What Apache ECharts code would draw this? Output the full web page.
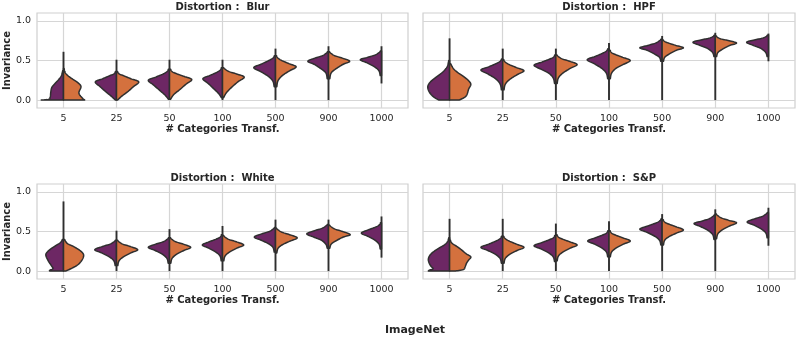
<!DOCTYPE html>
<html><head><meta charset="utf-8">
<script src="https://cdn.jsdelivr.net/npm/echarts@6/dist/echarts.min.js"></script>
<style>html,body{margin:0;padding:0;background:#fff}#c{width:798px;height:340px}</style>
</head><body><div id="c"></div>
<script>
// ---------- data ----------
const categories = ['5', '25', '50', '100', '500', '900', '1000'];
const yTicks = [0, 0.5, 1.0];
const panelNames = ['Blur', 'HPF', 'White', 'S&P'];

// tails: [min, max] of each violin (thin line)
const blurTails  = [[0,0.61],[0,0.51],[0,0.51],[0,0.51],[0,0.65],[0,0.68],[0.21,0.68]];
const hpfTails   = [[0,0.78],[0,0.65],[0,0.65],[0,0.72],[0,0.81],[0,0.85],[0.49,0.84]];
const whiteTails = [[0,0.88],[0,0.51],[0,0.53],[0,0.57],[0,0.65],[0,0.65],[0.17,0.69]];
const spTails    = [[0,0.66],[0,0.66],[0,0.60],[0,0.63],[0,0.72],[0,0.78],[0.32,0.80]];

// half-violin profiles: [invariance, half-width (category units)]
const blurPurple = [
  [[0,.42],[.01,.28],[.04,.25],[.1,.24],[.16,.22],[.21,.16],[.26,.09],[.31,.04],[.37,.015]],
  [[0,.02],[.05,.10],[.11,.21],[.17,.31],[.23,.40],[.27,.26],[.31,.12],[.33,.048],[.36,.02]],
  [[.01,.02],[.06,.08],[.12,.18],[.19,.30],[.25,.40],[.29,.26],[.33,.12],[.36,.048],[.39,.02]],
  [[.03,.02],[.08,.07],[.14,.16],[.21,.27],[.27,.37],[.31,.24],[.35,.11],[.38,.044],[.41,.02]],
  [[.17,.025],[.24,.05],[.30,.135],[.36,.28],[.41,.41],[.455,.265],[.50,.125],[.53,.05],[.56,.02]],
  [[.27,.025],[.34,.047],[.39,.13],[.45,.265],[.49,.39],[.53,.255],[.56,.117],[.59,.047],[.61,.02]],
  [[.31,.025],[.37,.048],[.42,.13],[.47,.27],[.51,.40],[.54,.26],[.57,.12],[.60,.048],[.62,.02]]
];
const blurOrange = [
  [[0,.40],[.03,.35],[.09,.29],[.17,.33],[.22,.27],[.27,.16],[.31,.08],[.35,.03],[.4,.01]],
  [[0,.02],[.05,.10],[.11,.22],[.17,.32],[.23,.42],[.27,.27],[.31,.125],[.33,.05],[.36,.02]],
  [[.01,.02],[.07,.08],[.13,.19],[.20,.31],[.26,.42],[.30,.27],[.335,.125],[.36,.05],[.39,.02]],
  [[.03,.02],[.09,.07],[.16,.17],[.23,.29],[.29,.41],[.33,.265],[.36,.125],[.39,.05],[.41,.02]],
  [[.17,.025],[.245,.047],[.31,.13],[.37,.265],[.42,.39],[.46,.255],[.50,.117],[.53,.047],[.56,.02]],
  [[.27,.025],[.34,.048],[.39,.13],[.45,.27],[.49,.40],[.53,.26],[.56,.12],[.59,.048],[.61,.02]],
  null
];
const hpfPurple = [
  [[0,.2],[.04,.3],[.1,.38],[.17,.41],[.23,.36],[.28,.27],[.33,.17],[.38,.09],[.43,.04],[.5,.015]],
  [[.13,.025],[.205,.05],[.27,.135],[.33,.28],[.38,.41],[.42,.265],[.46,.125],[.49,.05],[.52,.02]],
  [[.21,.025],[.28,.05],[.34,.135],[.39,.28],[.44,.41],[.48,.265],[.515,.125],[.54,.05],[.57,.02]],
  [[.27,.025],[.34,.05],[.40,.135],[.46,.28],[.51,.41],[.55,.265],[.59,.125],[.62,.05],[.65,.02]],
  [[.49,.025],[.54,.05],[.58,.14],[.63,.285],[.66,.42],[.69,.27],[.72,.125],[.75,.05],[.77,.02]],
  [[.55,.025],[.60,.05],[.65,.14],[.69,.285],[.73,.42],[.76,.27],[.78,.125],[.80,.05],[.82,.02]],
  [[.55,.025],[.60,.05],[.65,.135],[.69,.28],[.73,.41],[.76,.265],[.78,.125],[.80,.05],[.82,.02]]
];
const hpfOrange = [
  [[0,.18],[.05,.31],[.14,.36],[.2,.40],[.25,.35],[.3,.26],[.35,.15],[.4,.07],[.46,.02]],
  [[.13,.025],[.20,.048],[.26,.13],[.32,.27],[.37,.40],[.41,.26],[.45,.12],[.48,.048],[.51,.02]],
  [[.21,.025],[.28,.048],[.34,.13],[.40,.27],[.45,.40],[.49,.26],[.52,.12],[.55,.048],[.57,.02]],
  [[.27,.025],[.34,.048],[.40,.13],[.45,.27],[.50,.40],[.54,.26],[.575,.12],[.60,.048],[.63,.02]],
  [[.49,.025],[.54,.048],[.58,.13],[.63,.27],[.66,.40],[.69,.26],[.72,.12],[.74,.048],[.76,.02]],
  [[.55,.025],[.60,.048],[.64,.13],[.69,.27],[.72,.40],[.75,.26],[.77,.12],[.79,.048],[.81,.02]],
  null
];
const whitePurple = [
  [[0,.26],[.01,.26],[.03,.2],[.06,.22],[.12,.28],[.19,.33],[.23,.32],[.28,.24],[.32,.15],[.36,.06],[.4,.02]],
  [[.07,.025],[.13,.05],[.18,.135],[.23,.28],[.27,.41],[.31,.265],[.34,.125],[.37,.05],[.39,.02]],
  [[.10,.025],[.16,.048],[.21,.13],[.26,.27],[.30,.40],[.34,.26],[.37,.12],[.40,.048],[.42,.02]],
  [[.13,.025],[.19,.046],[.24,.125],[.29,.26],[.33,.38],[.37,.25],[.405,.115],[.43,.046],[.46,.02]],
  [[.24,.025],[.30,.048],[.345,.13],[.39,.27],[.43,.40],[.47,.26],[.50,.12],[.53,.048],[.55,.02]],
  [[.29,.025],[.34,.05],[.39,.135],[.43,.28],[.47,.41],[.51,.265],[.54,.125],[.57,.05],[.59,.02]],
  [[.28,.025],[.34,.046],[.39,.125],[.44,.26],[.48,.38],[.52,.25],[.555,.115],[.58,.046],[.61,.02]]
];
const whiteOrange = [
  [[0,.04],[.04,.17],[.08,.27],[.13,.34],[.19,.38],[.23,.36],[.27,.29],[.31,.19],[.35,.07],[.4,.02]],
  [[.07,.025],[.13,.048],[.18,.13],[.23,.27],[.27,.40],[.31,.26],[.34,.12],[.37,.048],[.39,.02]],
  [[.10,.025],[.16,.048],[.21,.13],[.26,.27],[.30,.40],[.34,.26],[.37,.12],[.40,.048],[.42,.02]],
  [[.13,.025],[.19,.048],[.24,.13],[.29,.27],[.33,.40],[.37,.26],[.40,.12],[.43,.048],[.45,.02]],
  [[.23,.025],[.29,.05],[.335,.135],[.38,.28],[.42,.41],[.46,.265],[.49,.125],[.52,.05],[.54,.02]],
  [[.29,.025],[.34,.05],[.38,.135],[.43,.28],[.46,.41],[.50,.265],[.53,.125],[.56,.05],[.58,.02]],
  null
];
const spPurple = [
  [[0,.40],[.012,.38],[.03,.31],[.07,.36],[.14,.40],[.2,.37],[.25,.29],[.29,.2],[.33,.1],[.37,.04],[.42,.015]],
  [[.10,.025],[.16,.05],[.21,.135],[.26,.28],[.30,.41],[.34,.265],[.38,.125],[.41,.05],[.44,.02]],
  [[.12,.025],[.18,.05],[.23,.135],[.28,.28],[.32,.41],[.36,.265],[.395,.125],[.42,.05],[.45,.02]],
  [[.18,.025],[.24,.048],[.29,.13],[.34,.27],[.38,.40],[.42,.26],[.455,.12],[.48,.048],[.51,.02]],
  [[.33,.025],[.39,.05],[.44,.14],[.49,.285],[.53,.42],[.57,.27],[.605,.125],[.63,.05],[.66,.02]],
  [[.40,.025],[.46,.048],[.51,.13],[.56,.27],[.60,.40],[.63,.26],[.66,.12],[.69,.048],[.71,.02]],
  [[.42,.025],[.48,.048],[.53,.13],[.58,.27],[.62,.40],[.66,.26],[.69,.12],[.72,.048],[.74,.02]]
];
const spOrange = [
  [[0,.1],[.02,.26],[.05,.29],[.1,.32],[.14,.36],[.18,.40],[.22,.31],[.27,.22],[.31,.14],[.35,.05],[.39,.015]],
  [[.10,.025],[.16,.048],[.21,.13],[.26,.27],[.30,.40],[.34,.26],[.38,.12],[.41,.048],[.44,.02]],
  [[.13,.025],[.19,.048],[.24,.13],[.29,.27],[.33,.40],[.37,.26],[.405,.12],[.43,.048],[.46,.02]],
  [[.18,.025],[.24,.048],[.29,.13],[.34,.27],[.38,.40],[.42,.26],[.455,.12],[.48,.048],[.51,.02]],
  [[.33,.025],[.39,.048],[.435,.13],[.48,.27],[.52,.40],[.56,.26],[.595,.12],[.62,.048],[.65,.02]],
  [[.41,.025],[.47,.048],[.52,.13],[.57,.27],[.61,.40],[.64,.26],[.67,.12],[.70,.048],[.72,.02]],
  null
];

// ---------- drawing ----------
const PURPLE = '#6d2764', ORANGE = '#d4713e', EDGE = '#2f2f2f';
const TEXT = '#262626', FONT = 'DejaVu Sans';
const GRID_C = '#d6d6d6';

const panels = [
  { tails: blurTails,  left: blurPurple,  right: blurOrange },
  { tails: hpfTails,   left: hpfPurple,   right: hpfOrange },
  { tails: whiteTails, left: whitePurple, right: whiteOrange },
  { tails: spTails,    left: spPurple,    right: spOrange }
];
const gridBoxes = [
  { left: 37,  top: 13,  width: 371, height: 95 },
  { left: 423, top: 13,  width: 372, height: 95 },
  { left: 37,  top: 184, width: 371, height: 95 },
  { left: 423, top: 184, width: 372, height: 95 }
];

function halfPolygon(api, c, side, prof) {
  const P = prof.map(p => api.coord([c + side * p[1], p[0]]));
  const out = [api.coord([c, prof[0][0]]), P[0]];
  const n = P.length;
  const steps = 8;
  for (let i = 0; i < n - 1; i++) {
    const p0 = P[Math.max(i - 1, 0)], p1 = P[i], p2 = P[i + 1], p3 = P[Math.min(i + 2, n - 1)];
    const c1 = [p1[0] + (p2[0] - p0[0]) / 6, p1[1] + (p2[1] - p0[1]) / 6];
    const c2 = [p2[0] - (p3[0] - p1[0]) / 6, p2[1] - (p3[1] - p1[1]) / 6];
    for (let s = 1; s <= steps; s++) {
      const t = s / steps, u = 1 - t;
      const a = u*u*u, b = 3*u*u*t, cc = 3*u*t*t, d = t*t*t;
      let x = a*p1[0] + b*c1[0] + cc*c2[0] + d*p2[0];
      const y = a*p1[1] + b*c1[1] + cc*c2[1] + d*p2[1];
      const cx = out[0][0];
      if (side < 0) x = Math.min(x, cx); else x = Math.max(x, cx);
      out.push([x, y]);
    }
  }
  out.push(api.coord([c, prof[n - 1][0]]));
  return out;
}

function makeRender(panel) {
  return function (params, api) {
    const i = api.value(0);
    const children = [];
    const t = panel.tails[i];
    const a = api.coord([i, t[0]]), b = api.coord([i, t[1]]);
    children.push({ type: 'line', shape: { x1: a[0], y1: a[1], x2: b[0], y2: b[1] },
      style: { stroke: EDGE, lineWidth: 1.9 } });
    if (panel.left[i]) children.push({ type: 'polygon',
      shape: { points: halfPolygon(api, i, -1, panel.left[i]) },
      style: { fill: PURPLE, stroke: EDGE, lineWidth: 1.5, lineJoin: 'round' } });
    if (panel.right[i]) children.push({ type: 'polygon',
      shape: { points: halfPolygon(api, i, 1, panel.right[i]) },
      style: { fill: ORANGE, stroke: EDGE, lineWidth: 1.5, lineJoin: 'round' } });
    return { type: 'group', children };
  };
}

const catIdx = categories.map((_, i) => i);
const option = {
  animation: false,
  backgroundColor: '#ffffff',
  textStyle: { fontFamily: FONT },
  grid: gridBoxes.map(g => Object.assign({ show: true, borderColor: '#cfcfcf', borderWidth: 1.2 }, g)),
  xAxis: gridBoxes.map((g, k) => ({
    type: 'value', gridIndex: k, min: -0.5, max: 6.5,
    axisLine: { show: false },
    axisTick: { show: false, customValues: catIdx },
    axisLabel: { customValues: catIdx, formatter: v => categories[Math.round(v)],
      margin: 6, fontSize: 9.5, color: TEXT, fontFamily: FONT },
    splitLine: { show: true, lineStyle: { color: GRID_C, width: 1.2 } },
    name: '# Categories Transf.', nameLocation: 'middle', nameGap: 16,
    nameTextStyle: { fontWeight: 'bold', fontSize: 10, color: TEXT, fontFamily: FONT }
  })),
  yAxis: gridBoxes.map((g, k) => ({
    type: 'value', gridIndex: k, min: -0.1, max: 1.1,
    axisLine: { show: false },
    axisTick: { show: false, customValues: yTicks },
    axisLabel: { show: k % 2 === 0, customValues: yTicks, formatter: v => v.toFixed(1),
      margin: 6, fontSize: 9.5, color: TEXT, fontFamily: FONT },
    splitLine: { show: true, lineStyle: { color: GRID_C, width: 1.2 } },
    name: k % 2 === 0 ? 'Invariance' : '', nameLocation: 'middle', nameGap: 23,
    nameTextStyle: { fontWeight: 'bold', fontSize: 10, color: TEXT, fontFamily: FONT }
  })),
  series: panels.map((p, k) => ({
    type: 'custom', xAxisIndex: k, yAxisIndex: k,
    data: catIdx.map(i => [i, p.tails[i][0], p.tails[i][1]]),
    encode: { x: 0, y: [1, 2] },
    renderItem: makeRender(p)
  })),
  graphic: [
    ...panelNames.map((nm, k) => ({
      type: 'text',
      x: gridBoxes[k].left + gridBoxes[k].width / 2,
      y: gridBoxes[k].top - 5.5,
      style: { text: 'Distortion :  ' + nm, textAlign: 'center', textVerticalAlign: 'middle',
        fontSize: 10, fontWeight: 'bold', fill: TEXT, fontFamily: FONT }
    })),
    { type: 'text', x: 415, y: 330,
      style: { text: 'ImageNet', textAlign: 'center', textVerticalAlign: 'middle',
        fontSize: 11, fontWeight: 'bold', fill: TEXT, fontFamily: FONT } }
  ]
};
const chart = echarts.init(document.getElementById('c'), null, { renderer: 'canvas' });
chart.setOption(option);
</script>
</body></html>
